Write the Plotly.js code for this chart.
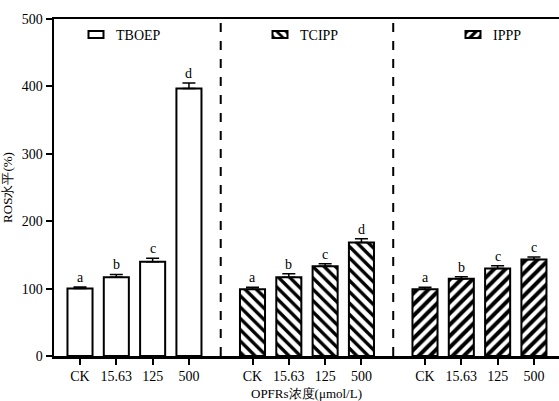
<!DOCTYPE html>
<html>
<head>
<meta charset="utf-8">
<script src="https://cdn.plot.ly/plotly-3.0.1.min.js"></script>
<style>html,body{margin:0;padding:0;background:#fff;}#chart{width:559px;height:401px;}</style>
</head>
<body>
<div id="chart"></div>
<script>
const groups = ['TBOEP', 'TCIPP', 'IPPP'];
const concentrations = ['CK', '15.63', '125', '500'];
const tboepValues = [100, 117, 140, 397];
const tboepErrors = [2.5, 4, 5, 8];
const tboepLetters = ['a', 'b', 'c', 'd'];
const tcippValues = [99, 117, 133, 168.5];
const tcippErrors = [3, 5, 4, 5.5];
const tcippLetters = ['a', 'b', 'c', 'd'];
const ipppValues = [99, 114.5, 130, 143];
const ipppErrors = [3, 3, 4, 4];
const ipppLetters = ['a', 'b', 'c', 'c'];
const yTickValues = [0, 100, 200, 300, 400, 500];

const FONT = 'Liberation Serif';
const groupStep = 4.75;
const values = [tboepValues, tcippValues, ipppValues];
const errors = [tboepErrors, tcippErrors, ipppErrors];
const letters = [tboepLetters, tcippLetters, ipppLetters];
const patterns = [
  {shape: '', fillmode: 'replace'},
  {shape: '\\', fgcolor: '#000', bgcolor: '#fff', size: 8, solidity: 0.42},
  {shape: '/', fgcolor: '#000', bgcolor: '#fff', size: 8, solidity: 0.5}
];
const legendNames = ['legend', 'legend2', 'legend3'];

const traces = [];
const annotations = [];
const allX = [];
const allText = [];
groups.forEach((g, gi) => {
  const xs = concentrations.map((c, i) => gi * groupStep + i);
  xs.forEach((x, i) => { allX.push(x); allText.push(concentrations[i]); });
  traces.push({
    type: 'bar',
    name: g,
    x: xs,
    y: values[gi],
    width: 0.69,
    marker: {
      color: '#fff',
      line: {color: '#000', width: 2},
      pattern: patterns[gi]
    },
    error_y: {
      type: 'data', symmetric: false,
      array: errors[gi], arrayminus: errors[gi].map(() => 0),
      color: '#000', thickness: 1.5, width: 6.5
    },
    legend: legendNames[gi],
    showlegend: true,
    hoverinfo: 'skip'
  });
  xs.forEach((x, i) => {
    annotations.push({
      x: x, y: values[gi][i] + errors[gi][i], xref: 'x', yref: 'y',
      text: letters[gi][i], showarrow: false, yanchor: 'bottom', yshift: 0,
      font: {family: FONT, size: 14, color: '#000'}
    });
  });
});

annotations.push({
  text: 'OPFRs浓度(μmol/L)', xref: 'paper', yref: 'paper', x: 0.5, y: -0.11,
  xanchor: 'center', yanchor: 'middle', showarrow: false,
  font: {family: FONT, size: 13, color: '#000'}
});

const legendBase = {
  yref: 'paper', xref: 'paper', y: 1.0, yanchor: 'top', xanchor: 'left',
  bgcolor: 'rgba(0,0,0,0)', borderwidth: 0,
  font: {family: FONT, size: 14, color: '#000'}
};
const layout = {
  width: 559, height: 401,
  font: {family: FONT, color: '#000'},
  margin: {l: 54, r: 0, t: 19, b: 45},
  paper_bgcolor: '#fff', plot_bgcolor: '#fff',
  showlegend: true,
  legend: Object.assign({}, legendBase, {x: (76 - 54) / 505}),
  legend2: Object.assign({}, legendBase, {x: (260 - 54) / 505}),
  legend3: Object.assign({}, legendBase, {x: (453 - 54) / 505}),
  xaxis: {
    range: [-0.716, 13.19],
    tickvals: allX, ticktext: allText,
    ticks: 'outside', ticklen: 6, tickwidth: 2, tickcolor: '#000',
    showline: true, linewidth: 2.5, linecolor: '#000', mirror: true,
    showgrid: false, zeroline: false,
    tickfont: {family: FONT, size: 14, color: '#000'}
  },
  yaxis: {
    range: [0, 500], tickvals: yTickValues,
    ticks: 'outside', ticklen: 6, tickwidth: 2, tickcolor: '#000',
    showline: true, linewidth: 2.5, linecolor: '#000',
    showgrid: false, zeroline: false,
    tickfont: {family: FONT, size: 14, color: '#000'},
    title: {text: 'ROS水平(%)', font: {family: FONT, size: 13, color: '#000'}, standoff: 8}
  },
  shapes: [1, 2].map(k => ({
    type: 'line', xref: 'x', yref: 'paper',
    x0: k * groupStep - 0.875, x1: k * groupStep - 0.875, y0: 0, y1: 1,
    line: {color: '#000', width: 2, dash: 'dash'}
  })),
  annotations: annotations,
  bargap: 0
};
Plotly.newPlot('chart', traces, layout, {staticPlot: true, displayModeBar: false}).then(gd => {
  // reshape legend icons into flat rectangles like the reference
  gd.querySelectorAll('.legendpoints path').forEach(p => {
    p.setAttribute('d', 'M7.5,3.5H-7.5V-3.5H7.5Z');
  });
});
</script>
</body>
</html>
